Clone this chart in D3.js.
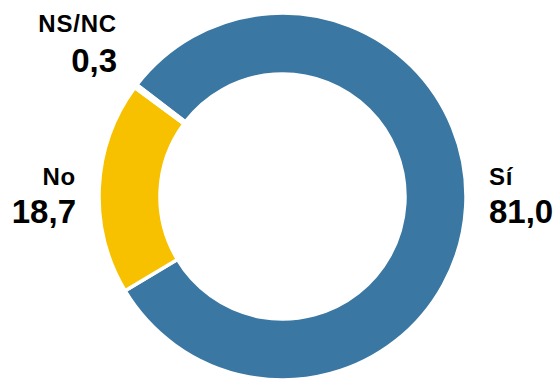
<!DOCTYPE html>
<html>
<head>
<meta charset="utf-8">
<script src="https://cdnjs.cloudflare.com/ajax/libs/d3/7.8.5/d3.min.js"></script>
<style>
  html, body { margin: 0; padding: 0; background: #fff; }
  svg { display: block; font-family: "Liberation Sans", Arial, sans-serif; font-weight: bold; }
</style>
</head>
<body>
<script>
var categories = ["Sí", "No", "NS/NC"];
var values = [81.0, 18.7, 0.3];
var valueLabels = ["81,0", "18,7", "0,3"];
var colors = ["#3a77a2", "#f7c100", "#e6e6e6"];

var width = 560, height = 379;
var origin = {"x": 282.5, "y": 196.5};   // centre of the ring
var outerR = 183.5, innerR = 122.5;

var svg = d3.select("body").append("svg")
    .attr("width", width)
    .attr("height", height);

// pie starts a bit left of 12 o'clock so "No" sits on the left side
var startA = -52.5 * Math.PI / 180;
var pie = d3.pie().sort(null)
    .startAngle(startA)
    .endAngle(startA + 2 * Math.PI);

var arc = d3.arc().innerRadius(innerR).outerRadius(outerR);

var slices = pie(values);

svg.append("g")
    .attr("transform", "translate(" + origin.x + "," + origin.y + ")")
    .selectAll("path")
    .data(slices)
    .enter().append("path")
    .attr("d", arc)
    .attr("fill", function(d, i){ return colors[i]; })
    .attr("stroke", "#fff")
    .attr("stroke-width", 3.5);

//labels: name above, value below
var labelPos = [
    {x: 489, y: 185, y2: 223, anchor: "start"},
    {x: 76, y: 185, y2: 223, anchor: "end"},
    {x: 117, y: 32, y2: 72, anchor: "end"}
];

var labels = svg.append("g").selectAll("g")
    .data(categories)
    .enter().append("g");

labels.append("text")
    .attr("x", function(d, i){ return labelPos[i].x; })
    .attr("y", function(d, i){ return labelPos[i].y; })
    .attr("text-anchor", function(d, i){ return labelPos[i].anchor; })
    .attr("font-size", 24)
    .attr("letter-spacing", 0.8)
    .attr("fill", "#000")
    .text(function(d){ return d; });

labels.append("text")
    .attr("x", function(d, i){ return labelPos[i].x; })
    .attr("y", function(d, i){ return labelPos[i].y2; })
    .attr("text-anchor", function(d, i){ return labelPos[i].anchor; })
    .attr("font-size", 33)
    .attr("fill", "#000")
    .text(function(d, i){ return valueLabels[i]; });
</script>
</body>
</html>
